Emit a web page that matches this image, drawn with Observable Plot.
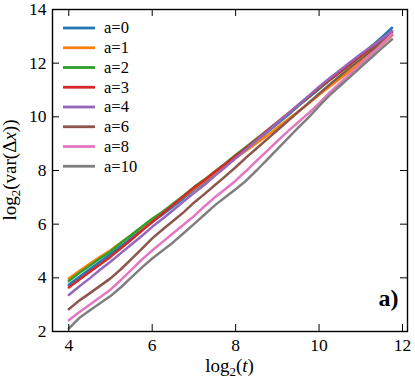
<!DOCTYPE html>
<html><head><meta charset="utf-8">
<script src="https://cdn.jsdelivr.net/npm/d3@7"></script>
<script src="https://cdn.jsdelivr.net/npm/@observablehq/plot@0.6"></script>
<style>body{margin:0;background:#fff}#chart{width:415px;height:383px}</style>
</head><body><div id="chart"></div>
<script>
const tValues = [4,4.25,4.5,4.75,5,5.25,5.5,5.75,6,6.25,6.5,6.75,7,7.25,7.5,7.75,8,8.25,8.5,8.75,9,9.25,9.5,9.75,10,10.25,10.5,10.75,11,11.25,11.5,11.75];
const seriesLabels = ["a=0","a=1","a=2","a=3","a=4","a=6","a=8","a=10"];
const seriesColors = ["#1f77b4","#ff7f0e","#2ca02c","#d62728","#9467bd","#8c564b","#e377c2","#7f7f7f"];
const varA0  = [3.74,4.03,4.32,4.6,4.88,5.18,5.48,5.78,6.08,6.36,6.66,6.96,7.28,7.56,7.86,8.16,8.48,8.78,9.1,9.42,9.74,10.06,10.4,10.72,11.04,11.36,11.66,11.96,12.28,12.62,12.96,13.32];
const varA1  = [3.97,4.25,4.52,4.78,5.03,5.32,5.6,5.88,6.16,6.44,6.72,7.02,7.32,7.6,7.9,8.18,8.46,8.74,9.02,9.3,9.6,9.9,10.2,10.5,10.82,11.12,11.42,11.72,12.02,12.34,12.68,13.04];
const varA2  = [3.88,4.18,4.45,4.72,4.98,5.3,5.6,5.9,6.2,6.46,6.76,7.06,7.38,7.66,7.96,8.26,8.58,8.88,9.18,9.48,9.8,10.1,10.42,10.74,11.06,11.36,11.66,11.96,12.26,12.56,12.86,13.16];
const varA3  = [3.64,3.93,4.22,4.5,4.78,5.1,5.42,5.75,6.08,6.4,6.72,7.04,7.36,7.64,7.94,8.24,8.54,8.84,9.16,9.48,9.8,10.12,10.44,10.76,11.08,11.38,11.68,11.98,12.28,12.58,12.88,13.16];
const varA4  = [3.36,3.68,3.98,4.3,4.6,4.92,5.24,5.56,5.9,6.2,6.52,6.84,7.16,7.46,7.8,8.12,8.46,8.78,9.12,9.45,9.78,10.1,10.44,10.78,11.12,11.44,11.74,12.04,12.34,12.62,12.9,13.2];
const varA6  = [2.83,3.15,3.42,3.7,3.98,4.32,4.7,5.08,5.47,5.8,6.12,6.44,6.8,7.12,7.45,7.78,8.12,8.48,8.82,9.16,9.5,9.84,10.18,10.52,10.86,11.2,11.52,11.84,12.14,12.46,12.76,13.06];
const varA8  = [2.42,2.72,3.0,3.28,3.56,3.92,4.3,4.68,5.02,5.34,5.66,5.98,6.3,6.66,7.0,7.3,7.62,7.98,8.36,8.72,9.1,9.46,9.8,10.14,10.5,10.9,11.25,11.6,11.95,12.32,12.7,13.08];
const varA10 = [2.11,2.5,2.78,3.05,3.32,3.65,4.02,4.38,4.72,5.02,5.32,5.66,6.0,6.35,6.7,7.0,7.3,7.62,8.0,8.4,8.8,9.2,9.6,9.98,10.4,10.8,11.15,11.5,11.85,12.2,12.55,12.89];
const seriesValues = [varA0,varA1,varA2,varA3,varA4,varA6,varA8,varA10];
const xTicks = [4,6,8,10,12];
const yTicks = [2,4,6,8,10,12,14];
const panelLabel = "a)";

const W = 415, H = 383, mL = 52, mR = 8, mT = 9, mB = 52;
const innerW = W - mL - mR, innerH = H - mT - mB, tickLen = 7;
const serif = "Liberation Serif, DejaVu Serif, serif";

const data = [];
seriesValues.forEach((vals, i) => vals.forEach((v, j) => data.push({t: tValues[j], v, s: seriesLabels[i]})));

const chart = Plot.plot({
  width: W, height: H,
  marginLeft: mL, marginRight: mR, marginTop: mT, marginBottom: mB,
  x: {domain: [3.61, 12.12]},
  y: {domain: [2, 14]},
  color: {domain: seriesLabels, range: seriesColors},
  style: {fontFamily: serif, fontSize: "17px", background: "white", color: "black"},
  marks: [
    Plot.line(data, {x: "t", y: "v", z: "s", stroke: "s", strokeWidth: 2.5}),
    Plot.tickX(xTicks, {x: d => d, insetTop: innerH - tickLen, stroke: "black", strokeWidth: 1}),
    Plot.tickX(xTicks, {x: d => d, insetBottom: innerH - tickLen, stroke: "black", strokeWidth: 1}),
    Plot.tickY(yTicks, {y: d => d, insetRight: innerW - tickLen, stroke: "black", strokeWidth: 1}),
    Plot.tickY(yTicks, {y: d => d, insetLeft: innerW - tickLen, stroke: "black", strokeWidth: 1}),
    Plot.axisX(xTicks, {tickSize: 0, tickPadding: 7, fontSize: 17.5, label: null, fontFamily: serif}),
    Plot.axisY(yTicks, {tickSize: 0, tickPadding: 6, fontSize: 17.5, label: null, fontFamily: serif}),
    Plot.frame({stroke: "black", strokeWidth: 1.4}),
    Plot.text([panelLabel], {frameAnchor: "bottom-right", dx: -9, dy: -26, textAnchor: "end", lineAnchor: "bottom", fontSize: 24, fontWeight: "bold", fill: "black", fontFamily: serif})
  ]
});
document.getElementById("chart").appendChild(chart);

const svg = d3.select(chart);
// legend
const lg = svg.append("g").attr("font-family", serif).attr("font-size", 16.5).attr("text-anchor", "start");
seriesLabels.forEach((lab, i) => {
  const y = mT + 19 + i * 19.75;
  lg.append("line").attr("x1", mL + 11).attr("x2", mL + 43).attr("y1", y).attr("y2", y)
    .attr("stroke", seriesColors[i]).attr("stroke-width", 2.8);
  lg.append("text").attr("x", mL + 52).attr("y", y).attr("dy", "0.33em").attr("fill", "black").text(lab);
});
// x label
const xl = svg.append("text").attr("x", mL + innerW / 2).attr("y", H - 11)
  .attr("text-anchor", "middle").attr("font-family", serif).attr("font-size", 19).attr("fill", "black");
xl.append("tspan").text("log");
xl.append("tspan").attr("font-size", 13).attr("dy", 4).text("2");
xl.append("tspan").attr("dy", -4).text("(");
xl.append("tspan").attr("font-style", "italic").text("t");
xl.append("tspan").text(")");
// y label
const yl = svg.append("text").attr("transform", `translate(16,${mT + innerH / 2}) rotate(-90)`)
  .attr("text-anchor", "middle").attr("font-family", serif).attr("font-size", 19).attr("fill", "black");
yl.append("tspan").text("log");
yl.append("tspan").attr("font-size", 13).attr("dy", 4).text("2");
yl.append("tspan").attr("dy", -4).text("(var(Δ");
yl.append("tspan").attr("font-style", "italic").text("x");
yl.append("tspan").text("))");
</script></body></html>
